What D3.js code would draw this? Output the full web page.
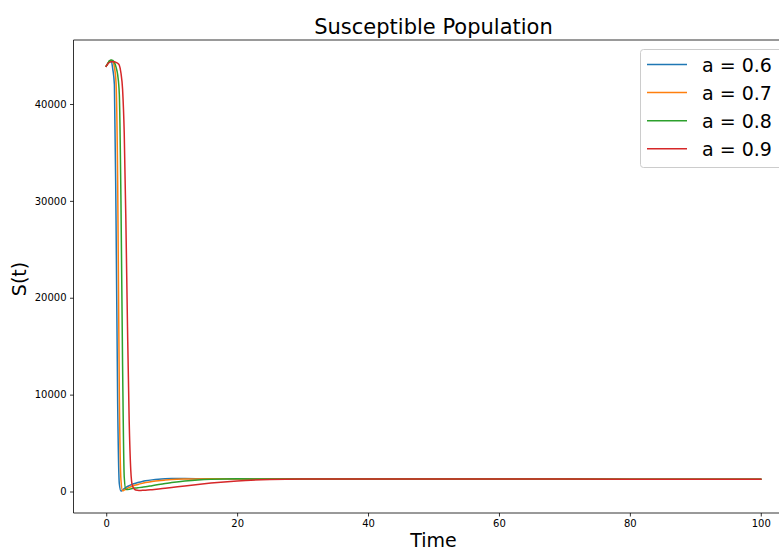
<!DOCTYPE html>
<html>
<head>
<meta charset="utf-8">
<script src="https://cdn.jsdelivr.net/npm/d3@7"></script>
<style>
  body { margin: 0; background: #fff; }
  svg { display: block; font-family: "DejaVu Sans", sans-serif; }
</style>
</head>
<body>
<div id="chart"></div>
<script>
// time samples (dense near the early drop)
const times = [0, 0.25, 0.5, 0.75, 1, 1.25, 1.5, 1.75, 2, 2.25, 2.5, 2.75, 3, 3.25, 3.5, 3.75, 4, 4.5, 5, 5.5, 6, 7, 8, 9, 10, 12, 14, 16, 18, 20, 25, 30, 40, 50, 60, 70, 80, 90, 100]

const tail = [1300, 1300, 1295, 1290, 1285, 1280, 1275, 1270, 1265]

const s06 = [43900, 44200, 44450, 44500, 43600, 42000, 28000, 9000, 800, 50, 150, 300, 420, 520, 600, 680, 750, 860, 950, 1030, 1100, 1200, 1270, 1310, 1330, 1330, 1320, 1310, 1305, 1300, ...tail]
const s07 = [43900, 44200, 44450, 44500, 44400, 43800, 42200, 32000, 10000, 1200, 80, 150, 250, 340, 420, 490, 560, 670, 760, 840, 920, 1030, 1120, 1180, 1230, 1280, 1300, 1305, 1305, 1300, ...tail]
const s08 = [43900, 44200, 44450, 44550, 44500, 44300, 43800, 43000, 41000, 30000, 13000, 1500, 200, 200, 230, 270, 310, 360, 400, 440, 480, 600, 720, 830, 920, 1080, 1200, 1270, 1300, 1305, ...tail]
const s09 = [43900, 44150, 44300, 44350, 44350, 44350, 44300, 44200, 44000, 43200, 41500, 37000, 28000, 17000, 7500, 2200, 600, 150, 110, 120, 130, 190, 260, 340, 420, 580, 730, 870, 990, 1090, 1230, 1280, 1290, 1288, 1284, 1279, 1274, 1269, 1265]

const seriesNames = ["a = 0.6", "a = 0.7", "a = 0.8", "a = 0.9"]
const seriesValues = [s06, s07, s08, s09]
const xTicks = [0, 20, 40, 60, 80, 100]
const yTicks = [0, 10000, 20000, 30000, 40000]

const W = 779, H = 552
const margin = { top: 40, left: 73.5, bottom: 513 }

const svg = d3.select("#chart").append("svg")
    .attr("width", W)
    .attr("height", H)

const x = d3.scaleLinear()
    .domain([-5, 105])
    .range([73.5, 793.5])

const y = d3.scaleLinear()
    .domain([-2219, 46606])
    .range([513, 40])

const color = d3.scaleOrdinal()
    .domain(seriesNames)
    .range(["#1f77b4", "#ff7f0e", "#2ca02c", "#d62728"])

const line = d3.line()
    .x((d, i) => x(times[i]))
    .y(d => y(d))
    .curve(d3.curveMonotoneX)

svg.append("g")
    .attr("fill", "none")
    .attr("stroke-width", 1.5)
    .attr("stroke-linejoin", "round")
    .attr("stroke-linecap", "square")
    .selectAll("path")
    .data(seriesValues)
    .join("path")
    .attr("stroke", (d, i) => color(seriesNames[i]))
    .attr("d", d => line(d))

// axes
const xAxis = g => g
    .attr("transform", `translate(0,${margin.bottom})`)
    .call(d3.axisBottom(x).tickValues(xTicks).tickSize(3.5).tickPadding(3.5).tickFormat(d3.format("d")))
    .call(g => g.select(".domain").remove())

const yAxis = g => g
    .attr("transform", `translate(${margin.left},0)`)
    .call(d3.axisLeft(y).tickValues(yTicks).tickSize(3.5).tickPadding(3.5).tickFormat(d3.format("d")))
    .call(g => g.select(".domain").remove())

svg.append("g").call(xAxis)
svg.append("g").call(yAxis)

svg.selectAll(".tick text")
    .attr("font-size", 10)
    .attr("font-family", "DejaVu Sans")
    .attr("fill", "#000")
svg.selectAll(".tick line")
    .attr("stroke", "#000")
    .attr("stroke-width", 0.8)

// spines (right one falls outside the window)
svg.append("path")
    .attr("fill", "none")
    .attr("stroke", "#000")
    .attr("stroke-width", 0.8)
    .attr("d", `M${W},${margin.top}H${margin.left}V${margin.bottom}H${W}`)

svg.append("text")
    .attr("x", 433.5)
    .attr("y", 33.5)
    .attr("text-anchor", "middle")
    .style("font-size", "21px")
    .text("Susceptible Population")

svg.append("text")
    .attr("x", 433.5)
    .attr("y", 547)
    .attr("text-anchor", "middle")
    .style("font-size", "19px")
    .text("Time")

svg.append("text")
    .attr("transform", "translate(25.5,279) rotate(-90)")
    .attr("text-anchor", "middle")
    .style("font-size", "19px")
    .text("S(t)")

// legend
const legend = svg.append("g")
legend.append("rect")
    .attr("x", 640.5)
    .attr("y", 49.5)
    .attr("width", 160)
    .attr("height", 118)
    .attr("rx", 3)
    .attr("fill", "#fff")
    .attr("fill-opacity", 0.8)
    .attr("stroke", "#cccccc")
    .attr("stroke-width", 1)

const rows = legend.selectAll("g.row")
    .data(seriesNames)
    .join("g")
    .attr("class", "row")
    .attr("transform", (d, i) => `translate(0,${64.5 + i * 28.1})`)

rows.append("line")
    .attr("x1", 647)
    .attr("x2", 687)
    .attr("stroke", d => color(d))
    .attr("stroke-width", 1.5)

rows.append("text")
    .attr("x", 702)
    .attr("y", 7)
    .style("font-size", "19px")
    .text(d => d)
</script>
</body>
</html>
